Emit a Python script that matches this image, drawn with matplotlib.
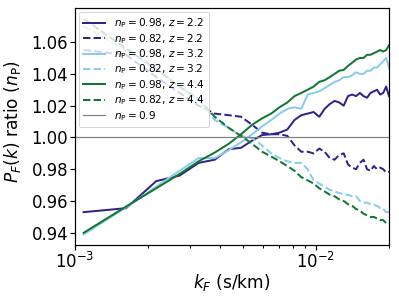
import numpy as np
from matplotlib import pyplot as plt

# k bins (s/km)
k_F = [0.001086, 0.001629, 0.002172, 0.002715, 0.003258, 0.003801, 0.004344,
       0.004887, 0.00543, 0.005973, 0.006516, 0.007059, 0.007602, 0.008145,
       0.008688, 0.009231, 0.009774, 0.010317, 0.01086, 0.011403, 0.011946,
       0.012489, 0.013032, 0.013575, 0.014118, 0.014661, 0.015204, 0.015747,
       0.01629, 0.016833, 0.017376, 0.017919, 0.018462, 0.019005, 0.019548,
       0.020091]

# ratios, n_P = 0.98
hi_z22 = [0.953, 0.9555, 0.9725, 0.976, 0.984, 0.986, 0.9926, 0.9935, 0.998,
          1.0015, 1.002, 1.003, 1.005, 1.011, 1.014, 1.015, 1.016, 1.013, 1.018,
          1.021, 1.023, 1.022, 1.020, 1.026, 1.027, 1.026, 1.028, 1.026, 1.025,
          1.028, 1.029, 1.030, 1.027, 1.028, 1.032, 1.026]
hi_z32 = [0.939, 0.956, 0.969, 0.979, 0.987, 0.987, 0.992, 0.997, 1.002, 1.007,
          1.011, 1.015, 1.018, 1.019, 1.018, 1.027, 1.028, 1.029, 1.031, 1.033,
          1.035, 1.036, 1.038, 1.038, 1.039, 1.041, 1.040, 1.040, 1.042, 1.042,
          1.044, 1.044, 1.046, 1.048, 1.050, 1.044]
hi_z44 = [0.940, 0.9565, 0.968, 0.977, 0.985, 0.9905, 0.996, 1.002, 1.008,
          1.012, 1.015, 1.019, 1.022, 1.026, 1.028, 1.030, 1.032, 1.035, 1.036,
          1.038, 1.040, 1.042, 1.0425, 1.045, 1.047, 1.049, 1.050, 1.050, 1.052,
          1.052, 1.053, 1.054, 1.055, 1.054, 1.055, 1.058]

# ratios, n_P = 0.82
lo_z22 = [1.055, 1.052, 1.038, 1.028, 1.020, 1.015, 1.014, 1.013, 1.008, 1.003,
          1.002, 1.002, 1.001, 0.995, 0.991, 0.991, 0.990, 0.993, 0.991, 0.987,
          0.986, 0.989, 0.990, 0.983, 0.981, 0.980, 0.984, 0.986, 0.980, 0.979,
          0.982, 0.980, 0.981, 0.980, 0.978, 0.9785]
lo_z32 = [1.070, 1.055, 1.043, 1.032, 1.024, 1.011, 1.006, 1.001, 0.9995,
          0.995, 0.990, 0.987, 0.985, 0.984, 0.984, 0.980, 0.973, 0.971, 0.969,
          0.967, 0.966, 0.965, 0.964, 0.964, 0.963, 0.963, 0.960, 0.959, 0.959,
          0.958, 0.9575, 0.957, 0.9555, 0.955, 0.953, 0.953]
lo_z44 = [1.0746, 1.056, 1.043, 1.032, 1.024, 1.013, 1.006, 1.001, 0.996,
          0.991, 0.988, 0.985, 0.982, 0.979, 0.975, 0.973, 0.971, 0.968, 0.966,
          0.964, 0.963, 0.961, 0.960, 0.958, 0.957, 0.955, 0.954, 0.952, 0.951,
          0.950, 0.950, 0.949, 0.948, 0.948, 0.946, 0.946]

redshifts = ['2.2', '3.2', '4.4']
colors = ['#332288', '#88CCEE', '#117733']

# 72 dpi so that 1pt == 1px
fig = plt.figure(figsize=(399 / 72, 299 / 72), dpi=72)
ax = fig.add_axes([0.188, 0.181, 0.787, 0.792])

for z, col, hi, lo in zip(redshifts, colors, [hi_z22, hi_z32, hi_z44],
                          [lo_z22, lo_z32, lo_z44]):
    ax.plot(k_F, hi, color=col, lw=2, ls='-',
            label=r'$n_\mathrm{P} = 0.98$, $z = ' + z + '$')
    ax.plot(k_F, lo, color=col, lw=2, ls='--',
            label=r'$n_\mathrm{P} = 0.82$, $z = ' + z + '$')
ax.axhline(1.0, color='gray', lw=1.2, label=r'$n_\mathrm{P} = 0.9$')

ax.set_xscale('log')
ax.set_xlim(1e-3, 0.020091)
ax.set_ylim(0.9324, 1.0814)
ax.set_yticks([0.94, 0.96, 0.98, 1.00, 1.02, 1.04, 1.06])
for sp in ax.spines.values():
    sp.set_linewidth(1.2)
ax.tick_params(which='major', labelsize=16.5, length=5, width=1.2, pad=2)
ax.tick_params(which='minor', length=3, width=1)
ax.set_xlabel(r'$k_F$ (s/km)', fontsize=17, labelpad=0)
ax.set_ylabel(r'$P_F(k)$ ratio ($n_\mathrm{P}$)', fontsize=17)
ax.yaxis.set_label_coords(-0.165, 0.52)
ax.legend(loc='upper left', fontsize=10.5, labelspacing=0.15,
          handlelength=2.1, borderaxespad=0.4)

fig.savefig('out.png', dpi=72)
